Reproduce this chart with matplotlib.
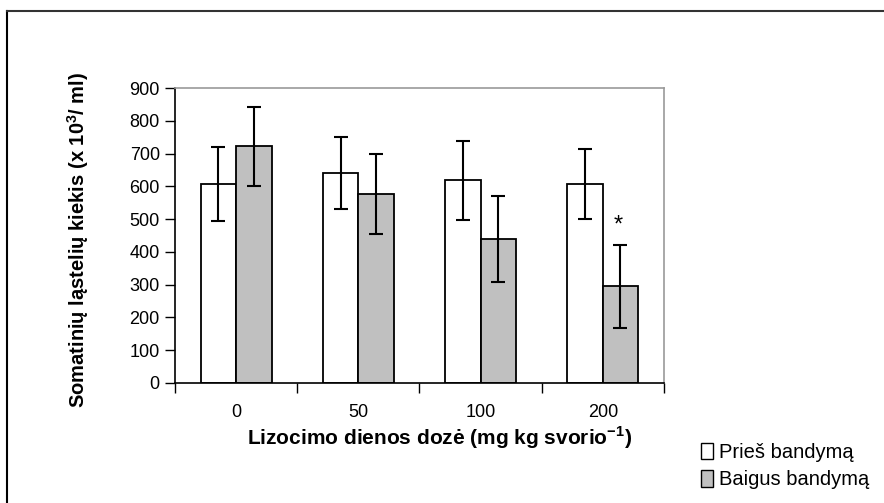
import matplotlib
matplotlib.use("Agg")
import matplotlib.pyplot as plt
import numpy as np
from matplotlib.patches import Patch

plt.rcParams['font.family'] = ['Liberation Sans', 'DejaVu Sans']
plt.rcParams['mathtext.fontset'] = 'custom'
plt.rcParams['mathtext.bf'] = 'Liberation Sans:bold'
plt.rcParams['mathtext.rm'] = 'Liberation Sans'

doses = ['0', '50', '100', '200']
pries = [607, 640, 618, 607]
pries_err = [113, 110, 121, 106]
baigus = [722, 577, 439, 295]
baigus_err = [121, 121, 132, 127]
series_names = ['Prieš bandymą', 'Baigus bandymą']

fig = plt.figure(figsize=(8.84, 5.03), dpi=100)
ax = fig.add_axes([0.198, 0.2386, 0.553, 0.5864])

x = np.arange(len(doses))
w = 0.29
ax.bar(x - w / 2, pries, w, color='white', edgecolor='black', linewidth=1.3, zorder=2)
ax.bar(x + w / 2, baigus, w, color='#c0c0c0', edgecolor='black', linewidth=1.3, zorder=2)
ax.errorbar(x - w / 2, pries, yerr=pries_err, fmt='none', ecolor='black',
            elinewidth=1.5, capsize=5, capthick=1.5, zorder=3)
ax.errorbar(x + w / 2, baigus, yerr=baigus_err, fmt='none', ecolor='black',
            elinewidth=1.5, capsize=5, capthick=1.5, zorder=3)
# significance mark
ax.text(x[3] + w / 2 - 0.02, baigus[3] + baigus_err[3] + 25, '*', ha='center',
        va='bottom', fontsize=17)

ax.set_xlim(-0.5, 3.5)
ax.set_ylim(0, 900)
ax.set_yticks(range(0, 1000, 100))
ax.set_xticks(x)
ax.set_xticklabels(doses)
ax.set_xticks(np.arange(-0.5, 4, 1), minor=True)
ax.tick_params(axis='x', which='major', length=0, pad=15, labelsize=13)
ax.tick_params(axis='x', which='minor', length=7, width=1, direction='out')
ax.tick_params(axis='y', length=7, width=1, direction='out', labelsize=13, pad=4)

for s in ['top', 'right']:
    ax.spines[s].set_color('#999999')
    ax.spines[s].set_linewidth(1.2)
for s in ['left', 'bottom']:
    ax.spines[s].set_color('black')
    ax.spines[s].set_linewidth(1.2)

ax.set_ylabel(r'Somatinių ląstelių kiekis (x 10$^{\mathbf{3}}$/ ml)',
              fontweight='bold', fontsize=14.5)
ax.yaxis.set_label_coords(-0.172, 0.485)
ax.set_xlabel(r'Lizocimo dienos dozė (mg kg svorio$^{\mathbf{-1}}$)',
              fontweight='bold', fontsize=15, va='center')
ax.xaxis.set_label_coords(0.542, -0.186)

handles = [Patch(facecolor='white', edgecolor='black', linewidth=1),
           Patch(facecolor='#c0c0c0', edgecolor='black', linewidth=1)]
fig.legend(handles, series_names, loc='upper left', bbox_to_anchor=(0.793, 0.12),
           frameon=False, fontsize=14.5, handlelength=0.6, handleheight=0.9,
           handletextpad=0.3, labelspacing=0.4, borderpad=0, borderaxespad=0)

# outer frame of the chart area
fig.add_artist(plt.Line2D([7 / 884, 7 / 884], [0, 1 - 11 / 503], color='black', lw=1.5,
                          transform=fig.transFigure))
fig.add_artist(plt.Line2D([7 / 884, 1], [1 - 11 / 503, 1 - 11 / 503], color='#333333', lw=1.5,
                          transform=fig.transFigure))

fig.savefig('out.png', dpi=100)
